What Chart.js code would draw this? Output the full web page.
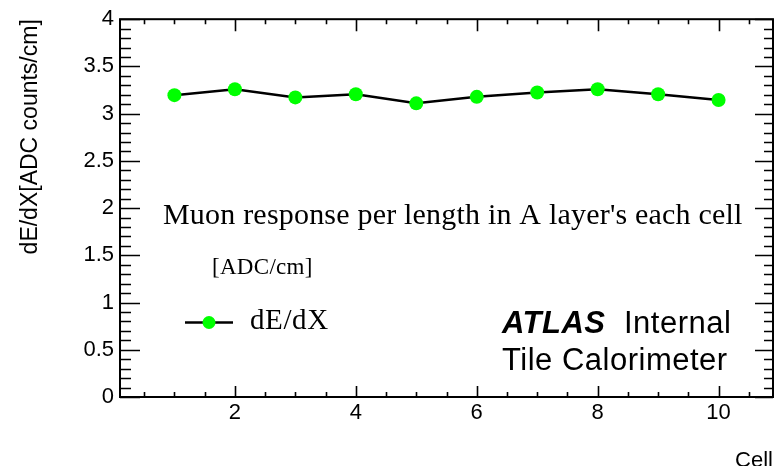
<!DOCTYPE html>
<html>
<head>
<meta charset="utf-8">
<script src="https://cdn.jsdelivr.net/npm/chart.js@4"></script>
<style>
  html, body { margin: 0; padding: 0; background: #fff; }
  #wrap { width: 780px; height: 466px; position: relative; }
</style>
</head>
<body>
<div id="wrap"><canvas id="chart"></canvas></div>
<script>
// Data
const cells = [1, 2, 3, 4, 5, 6, 7, 8, 9, 10];
const dEdX = [3.196, 3.258, 3.172, 3.206, 3.109, 3.178, 3.224, 3.258, 3.206, 3.144];

// Axis ticks
const xTickLabels = [2, 4, 6, 8, 10];
const yTickLabels = [0, 0.5, 1, 1.5, 2, 2.5, 3, 3.5, 4];
const xRange = [0.1, 10.9];
const yRange = [0, 4];

const SANS = '"Liberation Sans", Arial, Helvetica, sans-serif';
const SERIF = '"Liberation Serif", "Times New Roman", Times, serif';
const GREEN = '#00ff00';

// ROOT style frame with inward ticks on all four sides
const rootFrame = {
    id: 'rootFrame',
    afterDraw(chart) {
        const { ctx, chartArea: a, scales } = chart;
        const xs = scales.x, ys = scales.y;
        ctx.save();
        ctx.strokeStyle = '#000';
        ctx.lineWidth = 1.6;
        ctx.beginPath();
        // x ticks: major every 2, minor every 0.5
        for (let v = 0.5; v <= 10.5 + 1e-9; v += 0.5) {
            const px = Math.round(xs.getPixelForValue(v)) + 0.5;
            const major = xTickLabels.includes(v);
            const lb = major ? 11 : 5;
            const lt = major ? 12 : 5;
            ctx.moveTo(px, a.bottom); ctx.lineTo(px, a.bottom - lb);
            ctx.moveTo(px, a.top); ctx.lineTo(px, a.top + lt);
        }
        // y ticks: major every 0.5, minor every 0.1
        for (let i = 0; i <= 40; i++) {
            const v = i / 10;
            const py = Math.round(ys.getPixelForValue(v)) + 0.5;
            const major = i % 5 === 0;
            const ll = major ? 20 : 11;
            const lr = major ? 18 : 9;
            ctx.moveTo(a.left, py); ctx.lineTo(a.left + ll, py);
            ctx.moveTo(a.right, py); ctx.lineTo(a.right - lr, py);
        }
        ctx.stroke();
        ctx.lineWidth = 2;
        ctx.strokeRect(a.left, a.top, a.right - a.left, a.bottom - a.top);
        ctx.restore();
    }
};

// Text annotations and legend
const annotations = {
    id: 'annotations',
    afterDraw(chart) {
        const ctx = chart.ctx;
        ctx.save();
        ctx.fillStyle = '#000';
        ctx.textBaseline = 'alphabetic';
        ctx.textAlign = 'left';

        ctx.font = '30px ' + SERIF;
        ctx.letterSpacing = '0.2px';
        ctx.fillText("Muon response per length in A layer's each cell", 163, 224);

        ctx.font = '23px ' + SERIF;
        ctx.letterSpacing = '0.3px';
        ctx.fillText('[ADC/cm]', 212, 274);

        // legend
        ctx.strokeStyle = '#000';
        ctx.lineWidth = 2.5;
        ctx.beginPath();
        ctx.moveTo(185, 322.5);
        ctx.lineTo(233, 322.5);
        ctx.stroke();
        ctx.fillStyle = GREEN;
        ctx.beginPath();
        ctx.arc(209, 322.5, 6.5, 0, Math.PI * 2);
        ctx.fill();
        ctx.fillStyle = '#000';
        ctx.font = '29px ' + SERIF;
        ctx.letterSpacing = '0.6px';
        ctx.fillText('dE/dX', 250, 329);

        // ATLAS label
        ctx.font = 'italic bold 31px ' + SANS;
        ctx.letterSpacing = '0.5px';
        ctx.fillText('ATLAS', 502, 333);
        ctx.font = '31px ' + SANS;
        ctx.fillText('Internal', 624, 333);
        ctx.fillText('Tile Calorimeter', 502, 370);
        ctx.restore();
    }
};

new Chart(document.getElementById('chart'), {
    type: 'scatter',
    data: {
        datasets: [{
            label: 'dE/dX',
            data: cells.map((c, i) => ({ x: c, y: dEdX[i] })),
            showLine: true,
            borderColor: '#000',
            borderWidth: 2.5,
            tension: 0,
            pointRadius: 7,
            pointHoverRadius: 7,
            pointBackgroundColor: GREEN,
            pointBorderWidth: 0
        }]
    },
    options: {
        responsive: true,
        maintainAspectRatio: false,
        animation: false,
        layout: { padding: { left: 0, right: 3, top: 14, bottom: 0 } },
        plugins: {
            legend: { display: false },
            tooltip: { enabled: false }
        },
        scales: {
            x: {
                type: 'linear',
                min: xRange[0],
                max: xRange[1],
                grid: { display: false, drawTicks: false },
                border: { display: false },
                afterBuildTicks: axis => { axis.ticks = xTickLabels.map(v => ({ value: v })); },
                afterFit: axis => { axis.height = 69; },
                ticks: {
                    autoSkip: false,
                    maxRotation: 0,
                    padding: 3,
                    color: '#000',
                    font: { family: SANS, size: 22 },
                    callback: v => String(v)
                },
                title: {
                    display: true,
                    text: 'Cell',
                    align: 'end',
                    color: '#000',
                    font: { family: SANS, size: 22 },
                    padding: { top: 0, bottom: -8 }
                }
            },
            y: {
                min: yRange[0],
                max: yRange[1],
                grid: { display: false, drawTicks: false },
                border: { display: false },
                afterBuildTicks: axis => { axis.ticks = yTickLabels.map(v => ({ value: v })); },
                afterFit: axis => { axis.width = 120; },
                ticks: {
                    autoSkip: false,
                    padding: 6,
                    color: '#000',
                    font: { family: SANS, size: 22 },
                    callback: v => String(v)
                },
                title: {
                    display: true,
                    text: 'dE/dX[ADC counts/cm]',
                    align: 'end',
                    color: '#000',
                    font: { family: SANS, size: 23 },
                    padding: { top: 17, bottom: 0 }
                }
            }
        }
    },
    plugins: [rootFrame, annotations]
});
</script>
</body>
</html>
